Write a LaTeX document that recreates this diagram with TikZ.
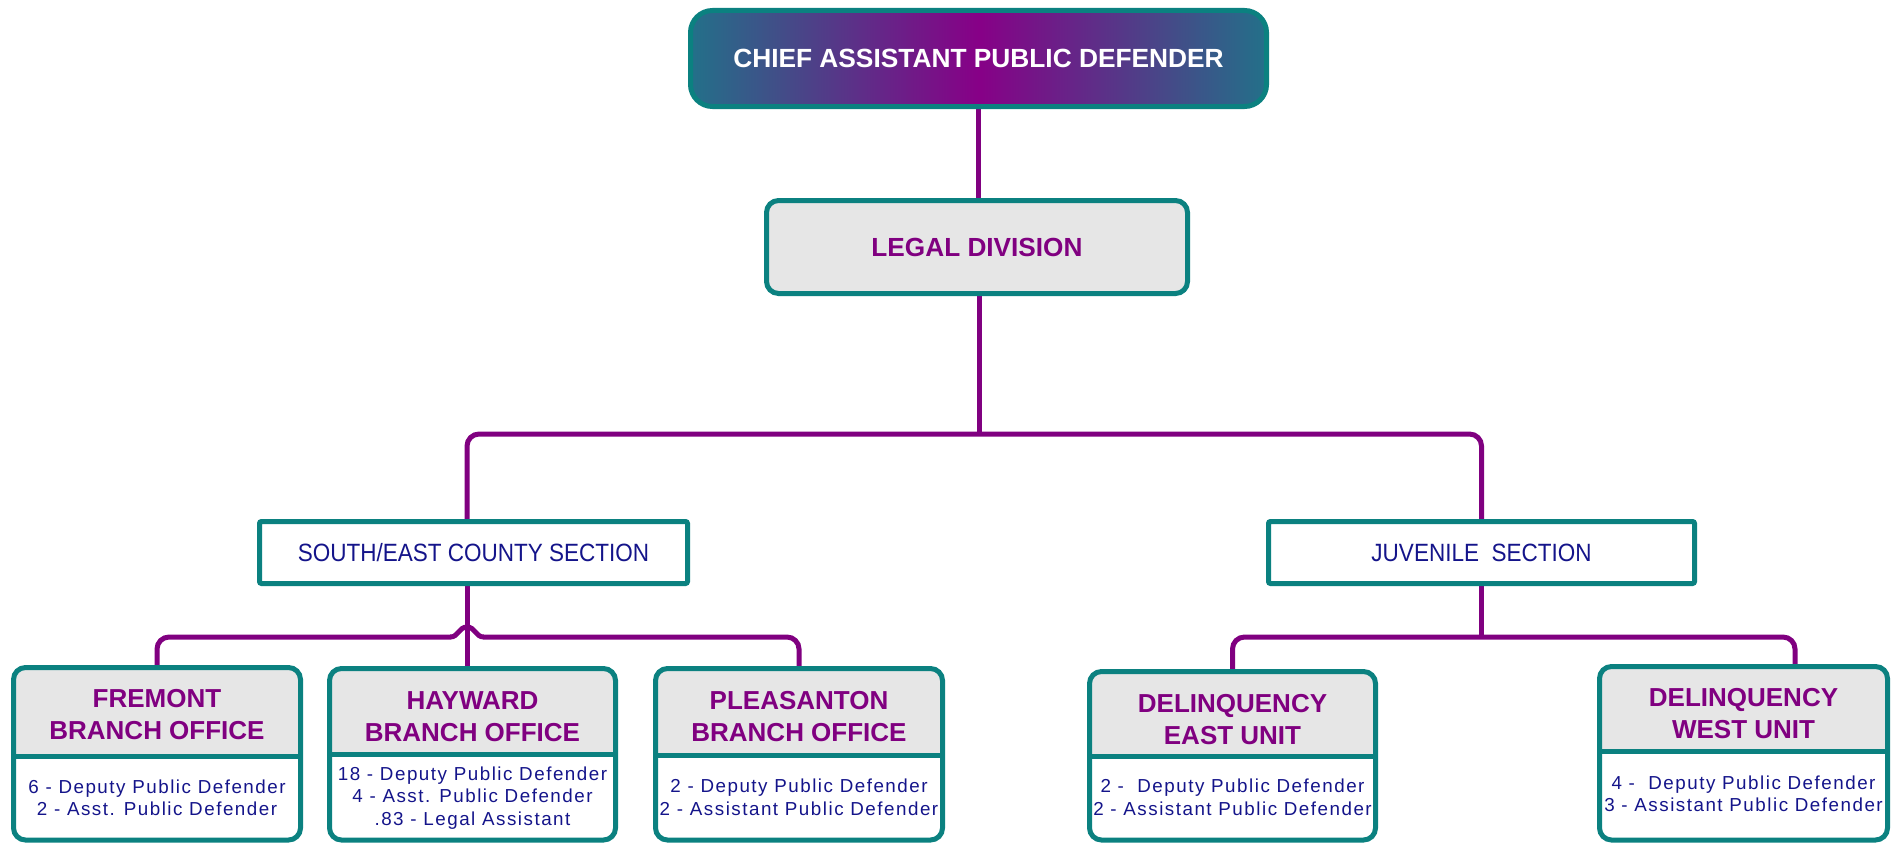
\documentclass[tikz,border=0pt]{standalone}
\usepackage{fontspec}
\setmainfont{Liberation Sans}
\newfontfamily\condfont[FakeStretch=0.9]{Liberation Sans}
\newfontfamily\bodyfont[LetterSpace=8]{Liberation Sans}
\definecolor{myteal}{HTML}{0B8180}
\definecolor{mypurple}{HTML}{800080}
\definecolor{mynavy}{HTML}{14148A}
\definecolor{hdrgray}{HTML}{E6E6E6}
\definecolor{shadeA}{HTML}{237089}
\definecolor{shadeB}{HTML}{870087}
\pgfdeclarelayer{bg}
\pgfsetlayers{bg,main}
\tikzset{
  conn/.style={draw=mypurple, line width=5pt},
  boxline/.style={draw=myteal, line width=5pt},
  unitbox/.style={boxline, rounded corners=12pt, inner sep=0pt},
  secbox/.style={boxline, fill=white, rounded corners=2pt, inner sep=0pt,
    minimum height=62pt, text=mynavy, font=\condfont\fontsize{25}{30}\selectfont},
  hdrtext/.style={inner sep=0pt, align=center, text=mypurple,
    font=\fontsize{26}{32}\selectfont\bfseries},
  bodytext/.style={inner sep=0pt, align=center, text=mynavy,
    font=\bodyfont\fontsize{18.8}{22.6}\selectfont},
}
% #1 name, #2 x1, #3 x2, #4 top, #5 divider, #6 header y, #7 body y, #8 header, #9 body
\newcommand\orgbox[9]{%
  \begin{scope}
    \clip[rounded corners=12pt] (#2,#4) rectangle (#3,840);
    \fill[hdrgray] (#2,#4) rectangle (#3,#5);
  \end{scope}
  \node[unitbox, minimum width={#3-#2}, minimum height={840-#4}] (#1) at ({(#2+#3)/2},{(#4+840)/2}) {};
  \draw[boxline] (#2,#5) -- (#3,#5);
  \node[hdrtext] (#1-h) at ({(#2+#3)/2},#6) {#8};
  \node[bodytext] (#1-b) at ({(#2+#3)/2},#7) {#9};
}
\begin{document}
\begin{tikzpicture}[x=1pt,y=-1pt]
\useasboundingbox (0,0) rectangle (1902,843);

% top box
\node[draw=myteal, line width=5pt, rounded corners=22pt, left color=shadeA, right color=shadeA, middle color=shadeB,
      minimum width=576pt, minimum height=96pt, inner sep=0pt, text=white,
      font=\fontsize{26.3}{30}\selectfont\bfseries] (chief) at (978.5,58.5) {CHIEF ASSISTANT PUBLIC DEFENDER};

\node[boxline, fill=hdrgray, rounded corners=12pt, minimum width=421pt, minimum height=93pt, inner sep=0pt,
      text=mypurple, font=\fontsize{26.2}{30}\selectfont\bfseries] (legal) at (977,247) {LEGAL DIVISION};

\node[secbox, minimum width=428pt] (se) at (473.5,552.5) {SOUTH/EAST COUNTY SECTION};
\node[secbox, minimum width=426pt] (juv) at (1481.5,552.5) {JUVENILE\ \ SECTION};

\orgbox{fre}{13.5}{300.5}{667.5}{756}{714.7}{797.7}{FREMONT\\BRANCH OFFICE}{6 - Deputy Public Defender\\2 - Asst. Public Defender}
\orgbox{hay}{329.5}{615.5}{668.5}{754}{716.7}{798}{HAYWARD\\BRANCH OFFICE}{18 - Deputy Public Defender\\4 - Asst. Public Defender\\.83 - Legal Assistant}
\orgbox{ple}{655.5}{942.5}{668.5}{755}{717}{797}{PLEASANTON\\BRANCH OFFICE}{2 - Deputy Public Defender\\2 - Assistant Public Defender}
\orgbox{eas}{1089.5}{1375.5}{671.5}{756}{719.7}{797}{DELINQUENCY\\EAST UNIT}{2 -\ \ Deputy Public Defender\\2 - Assistant Public Defender}
\orgbox{wes}{1599.5}{1887.5}{666.5}{751}{713.7}{793.8}{DELINQUENCY\\WEST UNIT}{4 -\ \ Deputy Public Defender\\3 - Assistant Public Defender}

% junction points
\coordinate (lj) at (979,434);
\coordinate (sj) at (467,637);
\coordinate (jj) at (1481.5,637);

% connectors (behind boxes)
\begin{pgfonlayer}{bg}
\draw[conn] (chief.south) -- (chief.south |- legal.north);
\draw[conn] (legal.south -| lj) -- (lj);
\draw[conn, rounded corners=12pt] (se.north -| sj) |- (lj) -| (juv.north);
\draw[conn] (se.south -| sj) -- (hay.north -| sj);
\draw[conn, rounded corners=12pt] (fre.north) |- ([xshift=-16pt]sj);
\draw[conn] ([xshift=-16.5pt]sj) .. controls ([xshift=-9pt]sj) and ([xshift=-8pt,yshift=10pt]sj) .. ([yshift=10pt]sj)
   .. controls ([xshift=8pt,yshift=10pt]sj) and ([xshift=9pt]sj) .. ([xshift=16.5pt]sj);
\draw[conn, rounded corners=12pt] ([xshift=16pt]sj) -| (ple.north);
\draw[conn] (juv.south) -- (jj);
\draw[conn, rounded corners=12pt] (eas.north) |- (jj) -| ([xshift=51.5pt]wes.north);
\end{pgfonlayer}
\end{tikzpicture}
\end{document}
